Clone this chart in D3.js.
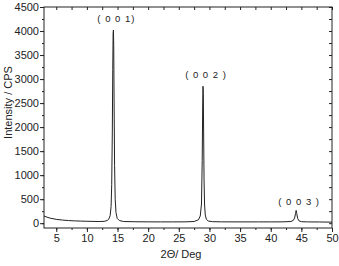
<!DOCTYPE html>
<html><head><meta charset="utf-8">
<script src="https://cdn.jsdelivr.net/npm/d3@7"></script>
<style>body{margin:0;background:#fff}svg{display:block}text{font-family:"Liberation Sans",Arial,sans-serif;fill:#222}</style>
</head><body><svg id="c" width="339" height="266"></svg>
<script>
const twoTheta = [3,3.5,4,5,6,7,8,9,10,11,12,12.8,13.3,13.6,13.8,13.95,14.05,14.15,14.22,14.28,14.33,14.38,14.44,14.52,14.62,14.75,14.95,15.3,16,18,20,22,24,26,27.5,28.2,28.5,28.7,28.82,28.9,28.95,29.0,29.05,29.12,29.2,29.32,29.5,29.8,30.5,32,35,38,40,42,43.3,43.7,43.9,44.05,44.15,44.25,44.4,44.6,45,46,48,50];
const intensity = [150,125,105,80,65,55,48,44,40,37,35,38,55,90,160,350,800,1900,3200,3950,4020,3700,2500,1200,500,220,100,55,35,30,28,27,27,28,35,70,150,400,1300,2500,2850,2700,1900,900,400,170,80,45,32,28,27,27,27,28,35,60,110,200,266,200,100,50,32,27,25,22];
const peakLabels = ["( 0 0 1)","( 0 0 2 )","( 0 0 3 )"];
const peakPos = [14.33,28.95,44.15];
const peakTop = [4020,2850,266];
const xTicks = [5,10,15,20,25,30,35,40,45,50];
const yTicks = [0,500,1000,1500,2000,2500,3000,3500,4000,4500];

const svg = d3.select("#c");
const L=44,R=332,T=7,B=228;
const x = d3.scaleLinear().domain([3,50]).range([L,R]);
const y = d3.scaleLinear().domain([-100,4500]).range([B,T]);
const xMinor = d3.range(5,50.01,2.5);
const yMinor = d3.range(0,4500.01,250);

const axStyle = g=>{g.select(".domain").remove();g.selectAll("line").attr("stroke","#222");g.selectAll("text").attr("font-size",11).attr("fill","#222");};
svg.append("g").attr("transform",`translate(0,${B})`).call(d3.axisBottom(x).tickValues(xMinor).tickSize(2).tickFormat("")).call(axStyle);
svg.append("g").attr("transform",`translate(0,${B})`).call(d3.axisBottom(x).tickValues(xTicks).tickSize(4).tickPadding(2).tickFormat(d3.format("d"))).call(axStyle);
svg.append("g").attr("transform",`translate(0,${T})`).call(d3.axisBottom(x).tickValues(xMinor).tickSize(3).tickFormat("")).call(axStyle);
svg.append("g").attr("transform",`translate(${L},0)`).call(d3.axisLeft(y).tickValues(yMinor).tickSize(2).tickFormat("")).call(axStyle);
svg.append("g").attr("transform",`translate(${L},0)`).call(d3.axisLeft(y).tickValues(yTicks).tickSize(4).tickPadding(1).tickFormat(d3.format("d"))).call(axStyle);
svg.append("g").attr("transform",`translate(${R},0)`).call(d3.axisLeft(y).tickValues(yMinor).tickSize(3).tickFormat("")).call(axStyle);

svg.append("rect").attr("x",L).attr("y",T).attr("width",R-L).attr("height",B-T).attr("fill","none").attr("stroke","#222").attr("stroke-width",1);

const pts = twoTheta.map((t,i)=>[t,intensity[i]]);
svg.append("path").datum(pts).attr("fill","none").attr("stroke","#222").attr("stroke-width",1)
  .attr("d",d3.line().x(d=>x(d[0])).y(d=>y(d[1])));

const labelGap = [8,8,5];
peakLabels.forEach((s,i)=>{
  svg.append("text").attr("x",x(peakPos[i])+3).attr("y",y(peakTop[i])-labelGap[i]).attr("text-anchor","middle")
    .attr("font-size",9.5).attr("letter-spacing","1px").text(s);
});

svg.append("text").attr("transform",`translate(12,102.5) rotate(-90)`).attr("text-anchor","middle").attr("font-size",11).text("Intensity / CPS");
svg.append("text").attr("x",181).attr("y",258).attr("text-anchor","middle").attr("font-size",11).text("2Θ/ Deg");
</script></body></html>
